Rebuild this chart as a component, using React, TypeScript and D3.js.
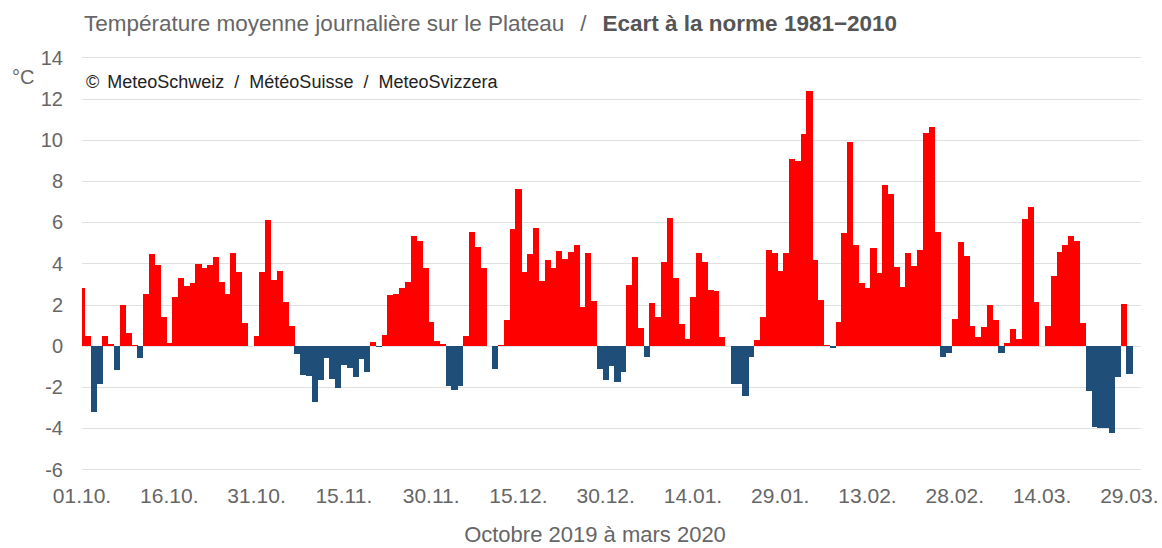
import React from 'react';
import * as d3 from 'd3';

// Ecart journalier à la norme 1981-2010 (°C), 01.10.2019 -> 29.03.2020
const octobre = [2.8, 0.45, -3.2, -1.85, 0.45, 0.1, -1.2, 2.0, 0.6, 0.05, -0.6, 2.5, 4.45, 3.9, 1.4, 0.15, 2.35, 3.3, 2.9, 3.05, 3.95, 3.75, 3.9, 4.3, 3.1, 2.5, 4.5, 3.6, 1.1, 0, 0.47];
const novembre = [3.6, 6.1, 3.2, 3.65, 2.1, 0.97, -0.4, -1.4, -1.45, -2.75, -1.65, -0.6, -1.6, -2.05, -0.95, -1.1, -1.5, -0.65, -1.3, 0.2, -0.07, 0.52, 2.46, 2.5, 2.78, 3.1, 5.32, 5.1, 3.79, 1.17];
const decembre = [0.24, 0.08, -1.96, -2.15, -1.96, 0.47, 5.53, 4.77, 3.79, 0, -1.15, 0.05, 1.25, 5.65, 7.62, 3.56, 4.43, 5.7, 3.14, 4.17, 3.79, 4.61, 4.22, 4.56, 4.87, 1.86, 4.48, 2.18, -1.15, -1.65, -0.97];
const janvier = [-1.76, -1.28, 2.94, 4.32, 0.87, -0.53, 2.09, 1.38, 4.08, 6.2, 3.27, 1.05, 0.31, 2.38, 4.48, 4.05, 2.7, 2.67, 0.4, 0, -1.86, -1.86, -2.43, -0.55, 0.28, 1.41, 4.64, 4.48, 3.62, 4.48, 9.06];
const fevrier = [8.96, 10.28, 12.36, 4.16, 2.22, 0.03, -0.13, 1.13, 5.49, 9.9, 4.89, 3.06, 2.78, 4.72, 3.51, 7.8, 7.36, 3.83, 2.86, 4.48, 3.87, 4.64, 10.34, 10.6, 5.53, -0.53, -0.37, 1.29, 5.05];
const mars = [4.35, 0.97, 0.44, 0.92, 1.97, 1.25, -0.37, 0.11, 0.79, 0.31, 6.13, 6.75, 2.12, 0, 0.95, 3.38, 4.56, 4.89, 5.32, 5.1, 1.12, -2.2, -3.96, -4.01, -4.0, -4.22, -1.54, 2.02, -1.38];

const ecarts = [...octobre, ...novembre, ...decembre, ...janvier, ...fevrier, ...mars];

const tickLabels = ['01.10.', '16.10.', '31.10.', '15.11.', '30.11.', '15.12.', '30.12.', '14.01.', '29.01.', '13.02.', '28.02.', '14.03.', '29.03.'];
const yTicks = [-6, -4, -2, 0, 2, 4, 6, 8, 10, 12, 14];
const credits = ['MeteoSchweiz', 'MétéoSuisse', 'MeteoSvizzera'];

const WIDTH = 1162;
const HEIGHT = 548;
const plot = { left: 82, right: 1141, top: 57.3, bottom: 469.3 };

const font = '"Liberation Sans", Arial, sans-serif';

export default function App() {
  const x = d3.scaleLinear().domain([0, 182]).range([plot.left, plot.right]);
  const y = d3.scaleLinear().domain([-6, 14]).range([plot.bottom, plot.top]);
  const bw = x(1) - x(0);

  return (
    <svg width={WIDTH} height={HEIGHT} style={{ position: 'absolute', left: 0, top: 0 }} fontFamily={font}>
      <defs>
        <clipPath id="plot">
          <rect x={plot.left} y={plot.top - 5} width={plot.right - plot.left} height={plot.bottom - plot.top + 10} />
        </clipPath>
      </defs>
      <rect width={WIDTH} height={HEIGHT} fill="#fff" />

      {/* grid */}
      {yTicks.map(t => (
        <line key={t} x1={plot.left} x2={plot.right} y1={Math.round(y(t)) + 0.5} y2={Math.round(y(t)) + 0.5}
          stroke="#e0e0e0" strokeWidth={1} />
      ))}

      {/* bars */}
      <g clipPath="url(#plot)" shapeRendering="crispEdges">
        {ecarts.map((v, i) => (
          <rect key={i} x={x(i) - bw / 2} width={bw + 0.3}
            y={v >= 0 ? y(v) : y(0)} height={Math.abs(y(v) - y(0))}
            fill={v >= 0 ? '#ff0000' : '#1f4e79'} />
        ))}
      </g>

      {/* y labels */}
      {yTicks.map(t => (
        <text key={t} x={63} y={y(t)} dy="0.36em" textAnchor="end" fontSize={20} fill="#666">{t}</text>
      ))}
      <text x={12} y={84} fontSize={20} fill="#666">°C</text>

      {/* x labels */}
      {tickLabels.map((l, i) => (
        <text key={l} x={x(i * 15)} y={503} textAnchor="middle" fontSize={21} fill="#666">{l}</text>
      ))}
      <text x={595} y={542} textAnchor="middle" fontSize={22} fill="#666">Octobre 2019 à mars 2020</text>

      {/* titles */}
      <text x={84} y={31} fontSize={22.5} fill="#666">
        <tspan>Température moyenne journalière sur le Plateau</tspan>
        <tspan dx={16}>/</tspan>
        <tspan dx={16} fontWeight="bold" fill="#555">Ecart à la norme 1981−2010</tspan>
      </text>
      <text x={86} y={88} fontSize={18} fill="#222">
        <tspan>©</tspan>
        {credits.map((c, i) => (
          <React.Fragment key={c}>
            {i > 0 && <tspan dx={10}>/</tspan>}
            <tspan dx={i === 0 ? 8 : 10}>{c}</tspan>
          </React.Fragment>
        ))}
      </text>
    </svg>
  );
}
